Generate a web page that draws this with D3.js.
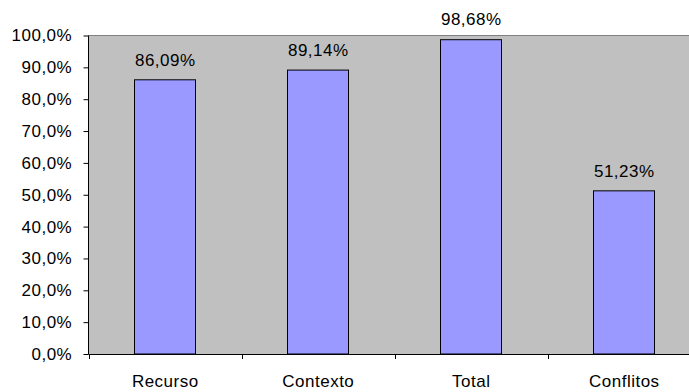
<!DOCTYPE html>
<html>
<head>
<meta charset="utf-8">
<script src="https://cdn.jsdelivr.net/npm/d3@7"></script>
<style>
  html, body { margin: 0; padding: 0; background: #fff; }
  svg { display: block; font-family: Arial, "Liberation Sans", sans-serif; }
  svg text { letter-spacing: 0.5px; }
</style>
</head>
<body>
<svg id="chart" width="689" height="392"></svg>
<script>
const categories = ["Recurso", "Contexto", "Total", "Conflitos"];
const values = [86.09, 89.14, 98.68, 51.23];
const valueLabels = ["86,09%", "89,14%", "98,68%", "51,23%"];
const yTicks = [0, 10, 20, 30, 40, 50, 60, 70, 80, 90, 100];

const svg = d3.select("#chart");
const plotLeft = 88.5, plotTop = 35.5, plotBottom = 354, plotW = 612;
const fontSize = 17;

const x = d3.scaleBand().domain(categories).range([plotLeft, plotLeft + plotW]).paddingInner(0.6).paddingOuter(0.3);
const y = d3.scaleLinear().domain([0, 100]).range([plotBottom, plotTop]);

// plot background
svg.append("rect")
  .attr("x", plotLeft).attr("y", plotTop)
  .attr("width", plotW).attr("height", plotBottom - plotTop)
  .attr("fill", "#C0C0C0");
svg.append("line")
  .attr("x1", plotLeft).attr("x2", plotLeft + plotW)
  .attr("y1", plotTop).attr("y2", plotTop)
  .attr("stroke", "#808080").attr("stroke-width", 1);

// bars
svg.selectAll("rect.bar").data(values).join("rect")
  .attr("class", "bar")
  .attr("x", (d, i) => Math.round(x(categories[i])) + 0.5)
  .attr("y", d => y(d))
  .attr("width", Math.round(x.bandwidth()))
  .attr("height", d => plotBottom - y(d))
  .attr("fill", "#9999FF")
  .attr("stroke", "#000").attr("stroke-width", 1);

// value labels
svg.selectAll("text.val").data(values).join("text")
  .attr("class", "val")
  .attr("x", (d, i) => x(categories[i]) + x.bandwidth() / 2 + 0.3)
  .attr("y", d => y(d) - 14.3)
  .attr("text-anchor", "middle")
  .attr("font-size", fontSize)
  .attr("fill", "#000")
  .text((d, i) => valueLabels[i]);

// y axis
const yAxis = d3.axisLeft(y).tickValues(yTicks).tickSize(5).tickPadding(11.3)
  .tickFormat(d => d.toFixed(1).replace(".", ",") + "%");
const gy = svg.append("g").attr("transform", `translate(${plotLeft},0)`).call(yAxis);
gy.select(".domain").attr("stroke", "#000").attr("d", `M0,${plotTop}V${plotBottom}`);
gy.selectAll(".tick line").attr("stroke", "#000");
gy.selectAll(".tick text").attr("font-size", fontSize).attr("fill", "#000").attr("font-family", "Arial, 'Liberation Sans', sans-serif");

// x axis with ticks at category boundaries
const boundaries = d3.range(categories.length + 1).map(i => plotLeft + i * (plotW / categories.length));
const gx = svg.append("g");
gx.append("line")
  .attr("x1", plotLeft).attr("x2", plotLeft + plotW)
  .attr("y1", plotBottom + 0.5).attr("y2", plotBottom + 0.5)
  .attr("stroke", "#000");
gx.selectAll("line.tk").data(boundaries).join("line")
  .attr("class", "tk")
  .attr("x1", d => Math.round(d) + 0.5).attr("x2", d => Math.round(d) + 0.5)
  .attr("y1", plotBottom).attr("y2", plotBottom + 5)
  .attr("stroke", "#000");
gx.selectAll("text.cat").data(categories).join("text")
  .attr("class", "cat")
  .attr("x", d => x(d) + x.bandwidth() / 2 + 0.3)
  .attr("y", 387)
  .attr("text-anchor", "middle")
  .attr("font-size", fontSize)
  .attr("fill", "#000")
  .text(d => d);
</script>
</body>
</html>
